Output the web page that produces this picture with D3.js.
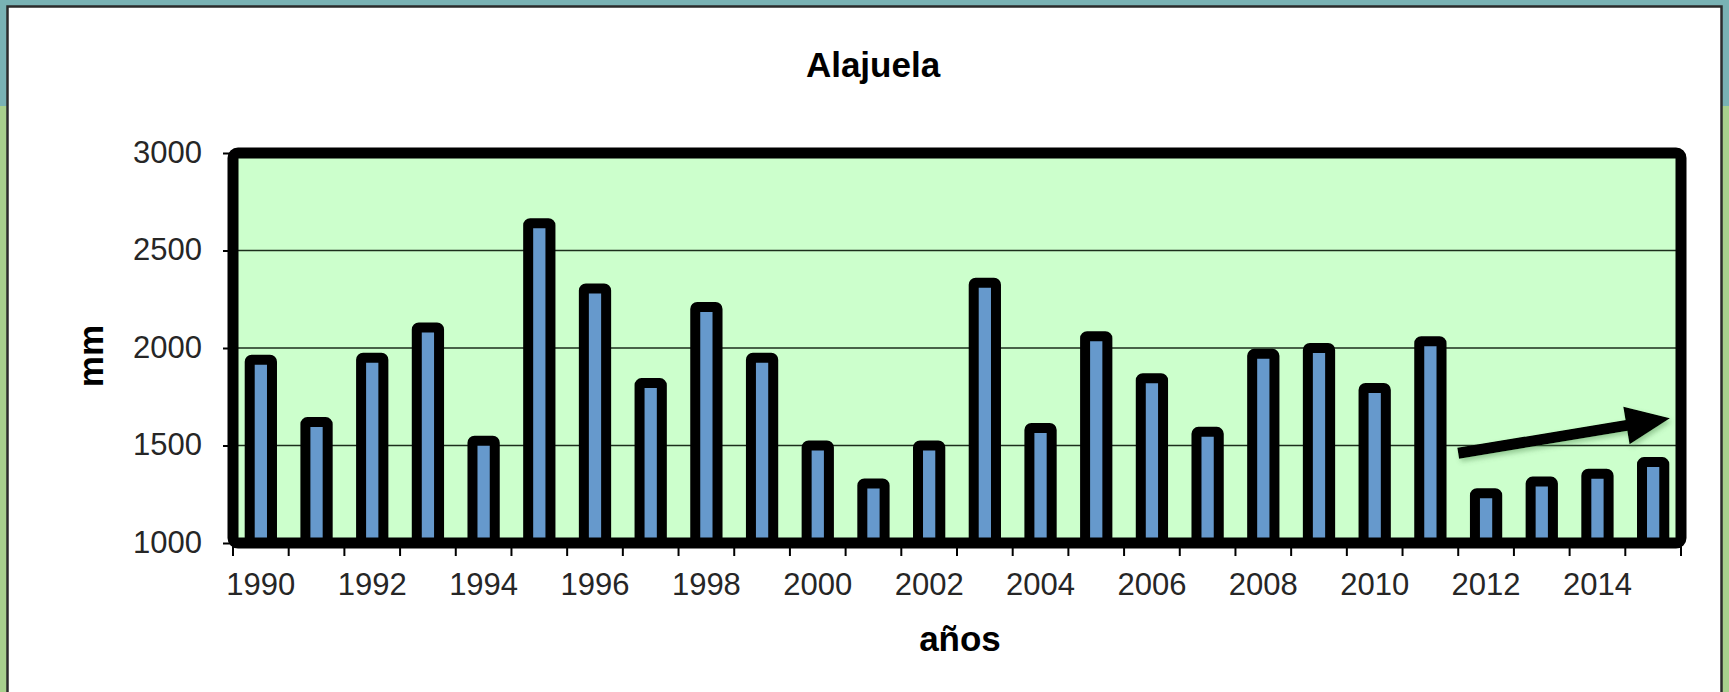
<!DOCTYPE html>
<html>
<head>
<meta charset="utf-8">
<script src="https://cdn.jsdelivr.net/npm/d3@7"></script>
<style>
  html, body { margin: 0; padding: 0; background: #a8d08d; }
  svg { display: block; }
  .axis text { font-family: "Liberation Sans", Arial, sans-serif; fill: #262626; }
</style>
</head>
<body>
<svg id="chart" width="1729" height="692"></svg>
<script>
// annual rainfall, Alajuela (mm)
const years = d3.range(1990, 2016);
const rainfall = [1940, 1620, 1950, 2105, 1525, 2640, 2305, 1820, 2210, 1950,
  1500, 1305, 1500, 2335, 1590, 2060, 1845, 1570, 1970, 2000,
  1795, 2035, 1255, 1315, 1355, 1415];
const yTicks = [1000, 1500, 2000, 2500, 3000];
const yearLabels = years.filter(d => d % 2 === 0);
// trend arrow, in category index / mm
const arrowFrom = {pos: 22, value: 1460};
const arrowTo = {pos: 25.8, value: 1640};

const title = 'Alajuela';
const xTitle = 'años';
const yTitle = 'mm';

const svg = d3.select('#chart');
const margin = {left: 233, top: 153, right: 48, bottom: 149};
const width = 1729 - margin.left - margin.right;
const height = 692 - margin.top - margin.bottom;

// page background: teal header band, white chart panel
svg.append('rect')
  .attr('x', 0).attr('y', 0)
  .attr('width', 1729).attr('height', 106)
  .attr('fill', '#79b2b4');
svg.append('rect')
  .attr('x', 7.5).attr('y', 6.5)
  .attr('width', 1714).attr('height', 700)
  .attr('fill', '#fff')
  .attr('stroke', '#2b2b2b')
  .attr('stroke-width', 2.5);

const defs = svg.append('defs');
defs.append('filter')
  .attr('id', 'shadow')
  .attr('x', '-20%').attr('y', '-50%')
  .attr('width', '140%').attr('height', '200%')
  .append('feDropShadow')
  .attr('dx', 2).attr('dy', 3)
  .attr('stdDeviation', 2.5)
  .attr('flood-color', '#4f8a4f')
  .attr('flood-opacity', 0.45);

const g = svg.append('g')
  .attr('transform', `translate(${margin.left},${margin.top})`);

const x = d3.scaleBand()
  .domain(years)
  .range([0, width])
  .paddingInner(0.6)
  .paddingOuter(0.3);

const xPos = d3.scaleLinear()
  .domain([0, years.length])
  .range([0, width]);

const y = d3.scaleLinear()
  .domain([1000, 3000])
  .range([height, 0]);

g.append('rect')
  .attr('width', width)
  .attr('height', height)
  .attr('fill', '#ccffcc');

// gridlines
g.append('g')
  .selectAll('line')
  .data(yTicks.slice(1, -1))
  .join('line')
  .attr('x1', 0).attr('x2', width)
  .attr('y1', d => y(d)).attr('y2', d => y(d))
  .attr('stroke', '#1c2e1c')
  .attr('stroke-width', 1.6);

// bars
g.append('g')
  .selectAll('rect')
  .data(years)
  .join('rect')
  .attr('x', d => x(d))
  .attr('y', (d, i) => y(rainfall[i]))
  .attr('width', x.bandwidth())
  .attr('height', (d, i) => height - y(rainfall[i]))
  .attr('rx', 2)
  .attr('fill', '#6699cc')
  .attr('stroke', '#000')
  .attr('stroke-width', 10)
  .attr('stroke-linejoin', 'round');

// y axis
const yAxis = d3.axisLeft(y)
  .tickValues(yTicks)
  .tickFormat(d3.format('d'))
  .tickSize(10)
  .tickPadding(21);
g.append('g')
  .attr('class', 'y axis')
  .call(yAxis)
  .call(sel => sel.select('.domain').remove())
  .call(sel => sel.selectAll('.tick line').attr('stroke', '#000').attr('stroke-width', 2))
  .call(sel => sel.selectAll('.tick text').style('font-size', '31px').attr('dy', '0.3em'));

// x axis: ticks between categories, labels every second year
g.append('g')
  .selectAll('line')
  .data(d3.range(years.length + 1))
  .join('line')
  .attr('x1', d => xPos(d)).attr('x2', d => xPos(d))
  .attr('y1', height).attr('y2', height + 13)
  .attr('stroke', '#000')
  .attr('stroke-width', 2);

const xAxis = d3.axisBottom(x)
  .tickValues(yearLabels)
  .tickSize(0)
  .tickPadding(30);
g.append('g')
  .attr('class', 'x axis')
  .attr('transform', `translate(0,${height})`)
  .call(xAxis)
  .call(sel => sel.select('.domain').remove())
  .call(sel => sel.selectAll('.tick text').style('font-size', '31px'));

// plot frame
g.append('rect')
  .attr('width', width)
  .attr('height', height)
  .attr('rx', 5)
  .attr('fill', 'none')
  .attr('stroke', '#000')
  .attr('stroke-width', 11);

// trend arrow
const ax0 = xPos(arrowFrom.pos);
const ay0 = y(arrowFrom.value);
const ax1 = xPos(arrowTo.pos);
const ay1 = y(arrowTo.value);
const ang = Math.atan2(ay1 - ay0, ax1 - ax0);
const headLen = 44;
const headHalf = 19;
const bx = ax1 - headLen * Math.cos(ang);
const by = ay1 - headLen * Math.sin(ang);
const arrow = g.append('g').attr('filter', 'url(#shadow)');
arrow.append('line')
  .attr('x1', ax0).attr('y1', ay0)
  .attr('x2', bx + 2 * Math.cos(ang)).attr('y2', by + 2 * Math.sin(ang))
  .attr('stroke', '#000')
  .attr('stroke-width', 11);
arrow.append('path')
  .attr('d', d3.line()([
    [ax1, ay1],
    [bx - headHalf * Math.sin(ang), by + headHalf * Math.cos(ang)],
    [bx + headHalf * Math.sin(ang), by - headHalf * Math.cos(ang)]
  ]) + 'Z')
  .attr('fill', '#000');

// titles
svg.append('text')
  .attr('x', 873).attr('y', 77)
  .attr('text-anchor', 'middle')
  .style('font', 'bold 35px "Liberation Sans", Arial, sans-serif')
  .text(title);

svg.append('text')
  .attr('x', 960).attr('y', 651)
  .attr('text-anchor', 'middle')
  .style('font', 'bold 35px "Liberation Sans", Arial, sans-serif')
  .text(xTitle);

svg.append('text')
  .attr('transform', 'translate(103,356) rotate(-90)')
  .attr('text-anchor', 'middle')
  .style('font', 'bold 35px "Liberation Sans", Arial, sans-serif')
  .text(yTitle);
</script>
</body>
</html>
